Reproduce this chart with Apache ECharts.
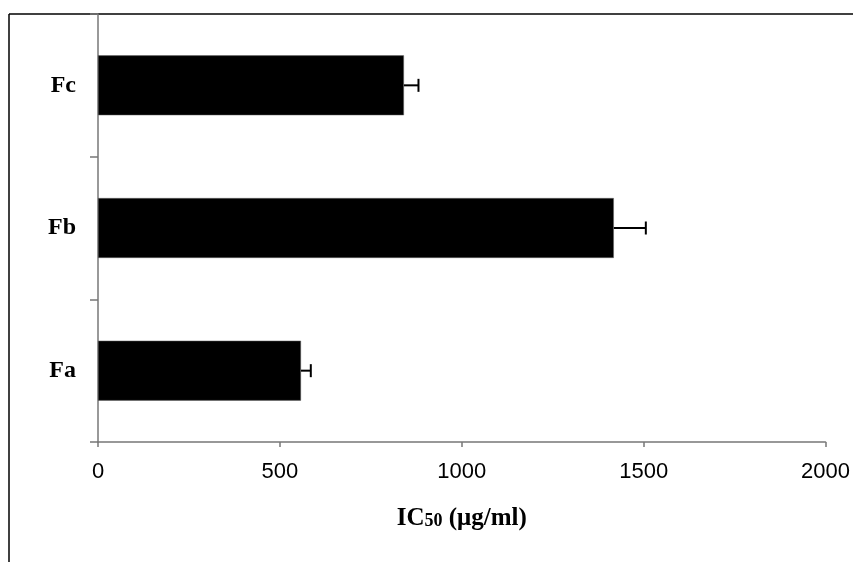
<!DOCTYPE html>
<html>
<head>
<meta charset="utf-8">
<script src="https://cdn.jsdelivr.net/npm/echarts@6/dist/echarts.min.js"></script>
<style>html,body{margin:0;padding:0;background:#fff;}#c{width:853px;height:562px;}</style>
</head>
<body>
<div id="c"></div>
<script>
const categories = ['Fa', 'Fb', 'Fc'];
const values = [558, 1418, 841];
const errors = [27, 88, 40];
const xMin = 0, xMax = 2000, xInterval = 500;

const chart = echarts.init(document.getElementById('c'));
const errData = categories.map((c, i) => [i, values[i], values[i] + errors[i]]);

chart.setOption({
  animation: false,
  backgroundColor: '#fff',
  grid: { left: 98, right: 27, top: 14, bottom: 120 },
  xAxis: {
    type: 'value', min: xMin, max: xMax, interval: xInterval,
    axisLine: { show: true, lineStyle: { color: '#777', width: 1.5 } },
    axisTick: { show: true, length: 5, lineStyle: { color: '#777', width: 1.5 } },
    splitLine: { show: false },
    axisLabel: { color: '#000', fontFamily: 'Liberation Sans, Arial', fontSize: 22, margin: 19,
      formatter: function (v) { return String(v); } },
    name: '{a|IC}{b|50}{a| (μg/ml)}',
    nameLocation: 'middle', nameGap: 64,
    nameTextStyle: {
      rich: {
        a: { fontFamily: 'Liberation Serif, Times New Roman', fontWeight: 'bold', fontSize: 25, color: '#000' },
        b: { fontFamily: 'Liberation Serif, Times New Roman', fontWeight: 'bold', fontSize: 18, color: '#000', padding: [6, 0, 0, 0] }
      }
    }
  },
  yAxis: {
    type: 'category', data: categories,
    axisLine: { show: true, lineStyle: { color: '#777', width: 1.5 } },
    axisTick: { show: true, length: 8, alignWithLabel: false, lineStyle: { color: '#777', width: 1.5 } },
    axisLabel: { color: '#000', fontFamily: 'Liberation Serif, Times New Roman', fontWeight: 'bold', fontSize: 24, margin: 22 }
  },
  series: [
    {
      type: 'bar', data: values, barWidth: '42%',
      itemStyle: { color: '#000', borderColor: '#666', borderWidth: 0.5 }
    },
    {
      type: 'custom', data: errData, encode: { y: 0, x: [1, 2] }, z: 5,
      renderItem: function (params, api) {
        const y = api.value(0);
        const p1 = api.coord([api.value(1), y]);
        const p2 = api.coord([api.value(2), y]);
        const h = 6.5;
        const st = { stroke: '#000', lineWidth: 2 };
        return {
          type: 'group',
          children: [
            { type: 'line', shape: { x1: p1[0], y1: p1[1], x2: p2[0], y2: p2[1] }, style: st },
            { type: 'line', shape: { x1: p2[0], y1: p2[1] - h, x2: p2[0], y2: p2[1] + h }, style: st }
          ]
        };
      }
    }
  ],
  graphic: [
    { type: 'line', shape: { x1: 9, y1: 14, x2: 853, y2: 14 }, style: { stroke: '#000', lineWidth: 1.5 } },
    { type: 'line', shape: { x1: 9, y1: 14, x2: 9, y2: 562 }, style: { stroke: '#000', lineWidth: 1.5 } }
  ]
});
</script>
</body>
</html>
